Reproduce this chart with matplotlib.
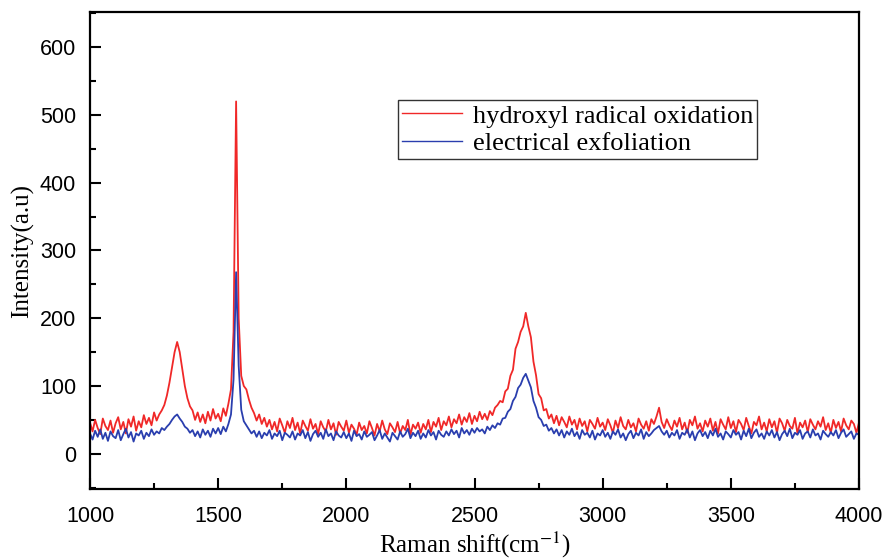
import numpy as np
import matplotlib
matplotlib.use("Agg")
import matplotlib.pyplot as plt
from matplotlib.ticker import MultipleLocator

plt.rcParams["mathtext.fontset"] = "stix"

# Raman shift grid (cm^-1), 10 cm^-1 step
raman_shift = list(range(1000, 4001, 10))

hydroxyl_radical_oxidation = [
    46, 33, 50, 38, 29, 52, 41, 35, 49, 31,
    45, 54, 36, 47, 30, 51, 40, 55, 34, 48,
    39, 57, 44, 53, 42, 61, 49, 58, 64, 72,
    86, 105, 128, 150, 165, 150, 125, 100, 82, 70,
    64, 50, 61, 47, 58, 45, 62, 49, 66, 52,
    59, 48, 67, 56, 74, 95, 180, 520, 200, 115,
    100, 95, 80, 68, 60, 49, 58, 44, 53, 40,
    50, 36, 47, 33, 52, 42, 31, 48, 38, 53,
    35, 46, 30, 49, 41, 34, 51, 37, 44, 29,
    48, 39, 33, 50, 36, 45, 28, 47, 40, 34,
    49, 31, 43, 37, 28, 46, 35, 41, 30, 48,
    38, 27, 44, 33, 49, 36, 29, 45, 39, 32,
    47, 30, 41, 35, 50, 28, 43, 37, 46, 31,
    44, 36, 50, 32, 47, 40, 53, 35, 48, 42,
    55, 39, 51, 45, 58, 43, 54, 47, 60, 44,
    56, 48, 62, 51, 59, 50, 63, 57, 68, 72,
    78, 76, 92, 96, 115, 124, 155, 165, 180, 188,
    208, 188, 172, 136, 116, 88, 82, 64, 66, 52,
    58, 45, 56, 42, 54, 47, 39, 55, 43, 50,
    36, 52, 41, 48, 33, 50, 44, 37, 53, 40,
    46, 35, 51, 42, 31, 49, 38, 54, 41, 36,
    50, 39, 45, 33, 52, 43, 37, 48, 34, 51,
    44, 55, 68, 47, 38, 51, 42, 35, 49, 40,
    53, 36, 46, 31, 50, 42, 55, 37, 45, 33,
    49, 40, 52, 34, 47, 30, 51, 43, 36, 54,
    38, 48, 32, 50, 44, 35, 53, 41, 30, 47,
    42, 55, 36, 46, 33, 51, 39, 48, 31, 52,
    45, 34, 50, 41, 37, 53, 30, 46, 39, 49,
    32, 51, 43, 36, 48, 40, 54, 35, 45, 31,
    50, 38, 47, 33, 52, 42, 36, 49, 44, 31,
    46,
]

electrical_exfoliation = [
    30, 21, 34, 25, 36, 22, 31, 19, 33, 26,
    23, 35, 20, 29, 37, 24, 32, 18, 30, 27,
    34, 22, 31, 26, 36, 28, 33, 30, 38, 35,
    40, 44, 50, 55, 58, 52, 47, 40, 37, 31,
    35, 26, 33, 24, 36, 28, 34, 25, 37, 30,
    38, 29, 40, 33, 44, 58, 110, 268, 130, 65,
    48, 42, 36, 30, 34, 25, 33, 23, 31, 27,
    35, 22, 30, 26, 34, 20, 31, 28, 24, 33,
    21, 30, 27, 35, 23, 32, 19, 29, 34, 25,
    31, 22, 36, 26, 30, 20, 33, 27, 24, 32,
    23, 30, 19, 34, 26, 29, 21, 33, 25, 28,
    32, 20, 27, 35, 22, 30, 24, 18, 31, 26,
    21, 33, 25, 29, 37, 23, 31, 26, 34, 22,
    30, 24, 35, 27, 32, 21, 34, 28, 25, 33,
    27, 36, 29, 34, 24, 38, 30, 35, 28, 37,
    31, 38, 33, 36, 30, 40, 35, 42, 38, 45,
    43, 52, 53, 62, 66, 78, 84, 97, 102, 112,
    118, 108, 98, 78, 68, 54, 50, 41, 43, 34,
    38, 30, 36, 27, 35, 24, 33, 28, 37, 26,
    32, 22, 35, 28, 31, 24, 34, 21, 30, 27,
    35, 25, 31, 22, 33, 28, 36, 24, 30, 20,
    29, 34, 23, 31, 27, 36, 22, 32, 26, 30,
    35, 38, 41, 33, 28, 34, 24, 31, 27, 35,
    22, 31, 28, 36, 24, 33, 20, 30, 35, 26,
    32, 23, 34, 27, 37, 25, 30, 21, 33, 29,
    24, 35, 28, 32, 21, 34, 26, 37, 23, 31,
    36, 25, 30, 22, 33, 27, 35, 24, 32, 20,
    29, 34, 26, 37, 23, 31, 28, 35, 22, 30,
    33, 24, 36, 27, 30, 21, 34, 29, 25, 32,
    27, 35, 23, 31, 36, 25, 29, 33, 22, 30,
    28,
]

series_labels = ["hydroxyl radical oxidation", "electrical exfoliation"]
x_ticks = [1000, 1500, 2000, 2500, 3000, 3500, 4000]
y_ticks = [0, 100, 200, 300, 400, 500, 600]

fig = plt.figure(figsize=(8.85, 5.58), dpi=100)
ax = fig.add_axes([90/885, 1-489/558, (859-90)/885, (489-12)/558])

ax.plot(raman_shift, hydroxyl_radical_oxidation, color="#f02828", lw=1.3,
        label=series_labels[0])
ax.plot(raman_shift, electrical_exfoliation, color="#2a3eae", lw=1.3,
        label=series_labels[1])

ax.set_xlim(1000, 4000)
ax.set_ylim(-52, 652)
ax.set_xticks(x_ticks)
ax.set_yticks(y_ticks)
ax.xaxis.set_minor_locator(MultipleLocator(250))
ax.yaxis.set_minor_locator(MultipleLocator(50))
ax.tick_params(which="both", direction="in", top=False, right=False,
               width=1.5)
ax.tick_params(which="major", length=8, labelsize=15.5)
ax.tick_params(axis="x", which="major", pad=12)
ax.tick_params(axis="y", which="major", pad=10)
ax.tick_params(which="minor", length=4.5)
for lab in ax.get_xticklabels() + ax.get_yticklabels():
    lab.set_fontfamily("Liberation Sans")
for sp in ax.spines.values():
    sp.set_linewidth(1.6)

ax.set_xlabel("Raman shift(cm$^{-1}$)", fontfamily="Liberation Serif",
              fontsize=18, labelpad=2)
ax.set_ylabel("Intensity(a.u)", fontfamily="Liberation Serif", fontsize=18,
              labelpad=4)

leg = ax.legend(loc="upper left", bbox_to_anchor=(0.40, 0.815),
                borderaxespad=0, frameon=True, fancybox=False,
                prop={"family": "Liberation Serif", "size": 19},
                handlelength=2.3, handletextpad=0.4, borderpad=0.15,
                labelspacing=0.15)
leg.get_frame().set_edgecolor("black")
leg.get_frame().set_linewidth(1.0)
for l in leg.get_lines():
    l.set_linewidth(1.0)

fig.savefig("out.png", dpi=100)
